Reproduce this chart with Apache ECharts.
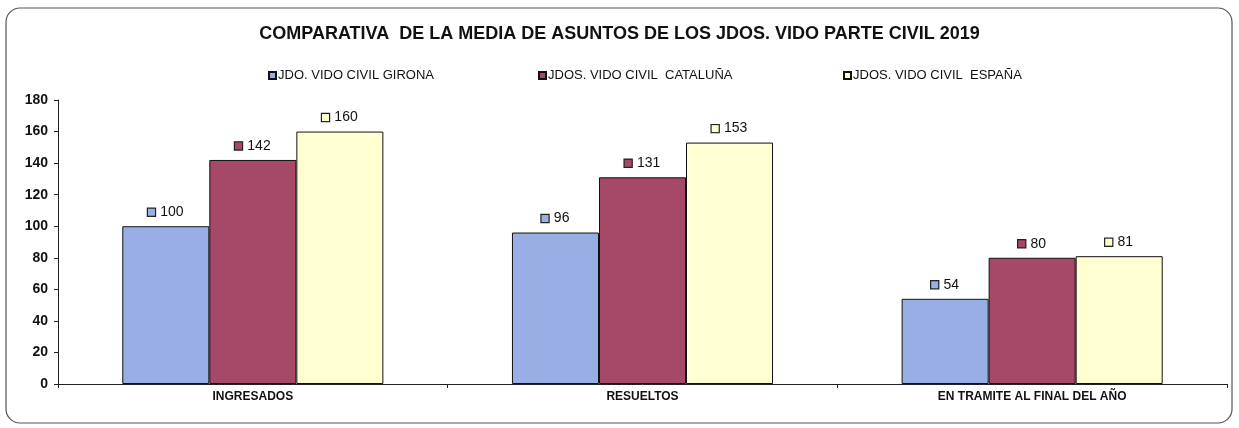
<!DOCTYPE html>
<html>
<head>
<meta charset="utf-8">
<script src="https://cdn.jsdelivr.net/npm/echarts@6/dist/echarts.min.js"></script>
<style>
  html, body { margin: 0; padding: 0; background: #fff; }
  #main { width: 1239px; height: 428px; }
</style>
</head>
<body>
<div id="main"></div>
<script>
var myChart = echarts.init(document.getElementById('main'));

var categories = ['INGRESADOS', 'RESUELTOS', 'EN TRAMITE AL FINAL DEL AÑO'];
var seriesNames = ['JDO. VIDO CIVIL GIRONA', 'JDOS. VIDO CIVIL  CATALUÑA', 'JDOS. VIDO CIVIL  ESPAÑA'];
var girona = [100, 96, 54];
var cataluna = [142, 131, 80];
var espana = [160, 153, 81];
var colors = ['#9AAEE6', '#A64868', '#FFFFD2'];
var legendLeft = [263, 533, 838];

var font = '"Liberation Sans", Arial, sans-serif';

function makeSeries(name, data, color) {
    return {
        name: name,
        type: 'bar',
        barGap: 0,
        barCategoryGap: '33%',
        data: data,
        itemStyle: { color: color, borderColor: '#111', borderWidth: 1 },
        label: {
            show: true,
            position: 'top',
            distance: 7,
            formatter: '{s|} {v|{c}}',
            rich: {
                s: { width: 7, height: 7, backgroundColor: color, borderColor: '#222', borderWidth: 1.2 },
                v: { fontFamily: font, fontSize: 14, color: '#111', padding: [0, 0, 0, 2] }
            }
        }
    };
}

var allData = [girona, cataluna, espana];
var series = [];
var legends = [];
seriesNames.forEach(function (n, i) {
    series.push(makeSeries(n, allData[i], colors[i]));
    legends.push({
        data: [n],
        left: legendLeft[i],
        top: 64,
        icon: 'rect',
        itemWidth: 7,
        itemHeight: 7,
        itemGap: 2,
        textStyle: { fontFamily: font, fontSize: 13, color: '#111', padding: [0, 0, 0, -3] }
    });
});

var option = {
    backgroundColor: '#fff',
    animation: false,
    title: {
        text: 'COMPARATIVA  DE LA MEDIA DE ASUNTOS DE LOS JDOS. VIDO PARTE CIVIL 2019',
        left: 'center',
        top: 20,
        textStyle: { fontFamily: font, fontSize: 18, fontWeight: 'bold', color: '#111' }
    },
    legend: legends,
    graphic: [{
        type: 'rect',
        shape: { x: 6, y: 8, width: 1226, height: 415, r: 14 },
        style: { fill: 'none', stroke: '#555', lineWidth: 1.2 },
        silent: true
    }],
    grid: { left: 58, right: 12, top: 100, bottom: 44 },
    xAxis: {
        type: 'category',
        data: categories,
        axisLine: { lineStyle: { color: '#222', width: 1 } },
        axisTick: { show: true, length: 4, lineStyle: { color: '#222' } },
        axisLabel: { fontFamily: font, fontSize: 12, fontWeight: 'bold', color: '#111', margin: 7 }
    },
    yAxis: {
        type: 'value',
        min: 0,
        max: 180,
        interval: 20,
        axisLine: { show: true, lineStyle: { color: '#222', width: 1 } },
        axisTick: { show: true, length: 4, lineStyle: { color: '#222' } },
        splitLine: { show: false },
        axisLabel: { fontFamily: font, fontSize: 14, fontWeight: 'bold', color: '#111', margin: 10 }
    },
    series: series
};

myChart.setOption(option);
window.onresize = myChart.resize;
</script>
</body>
</html>
